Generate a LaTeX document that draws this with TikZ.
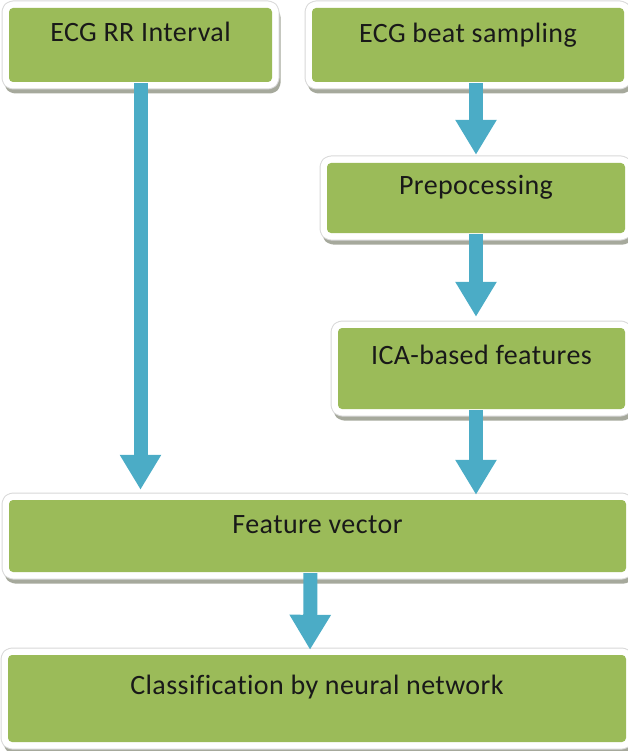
\documentclass[tikz,border=0pt]{standalone}
\usepackage{fontspec}
\setmainfont{Carlito}[Ligatures=NoCommon, LetterSpace=1.5]
\usetikzlibrary{arrows.meta,calc}
\definecolor{boxgreen}{HTML}{9BBB59}
\definecolor{arrowblue}{HTML}{4BACC6}
\definecolor{framegray}{HTML}{D8D8D8}
\definecolor{shadowgray}{HTML}{A6A99C}
\tikzset{
  box/.style={rectangle, rounded corners=4pt, inner sep=0pt, fill=boxgreen,
    font=\fontsize{28}{34}\selectfont, text=black!90,
    preaction={fill=shadowgray, draw=shadowgray, line width=13pt, line join=round,
      transform canvas={xshift=2pt, yshift=-5pt}},
    preaction={draw=framegray, line width=15pt, line join=round},
    preaction={draw=white, line width=13pt, line join=round}},
  flow/.style={draw=arrowblue, line width=14pt,
    -{Triangle[width=39pt, length=35pt, fill=arrowblue]}, shorten <=1pt}
}
\begin{document}
\begin{tikzpicture}[x=1pt, y=-1pt]
\useasboundingbox (0,0) rectangle (627,751);
\node[box, minimum width=263pt, text height=34pt, text depth=40pt] (b1) at (140.5,45) {ECG RR Interval};
\node[box, minimum width=312pt, text height=35pt, text depth=39pt] (b2) at (468,45) {ECG beat sampling};
\node[box, minimum width=298pt, text height=32pt, text depth=38pt] (b3) at (476,198) {Prepocessing};
\node[box, minimum width=287pt, text height=36pt, text depth=45pt] (b4) at (481.5,368.5) {ICA-based features};
\node[box, minimum width=617pt, text height=33pt, text depth=39pt] (fv) at (317.5,536) {Feature vector};
\node[box, minimum width=618pt, text height=39pt, text depth=48pt] (cl) at (317,698.5) {Classification by neural network};
\draw[flow, shorten >=10pt] (b1.south) -- (b1.south |- fv.north);
\draw[flow, shorten >=8pt] (b3.north |- b2.south) -- (b3.north);
\draw[flow, shorten >=11pt] (b3.south) -- (b3.south |- b4.north);
\draw[flow, shorten >=5pt] (b3.south |- b4.south) -- (b3.south |- fv.north);
\draw[flow, shorten >=5pt] ([xshift=-7pt]fv.south) -- ([xshift=-7pt]cl.north);
\end{tikzpicture}
\end{document}
